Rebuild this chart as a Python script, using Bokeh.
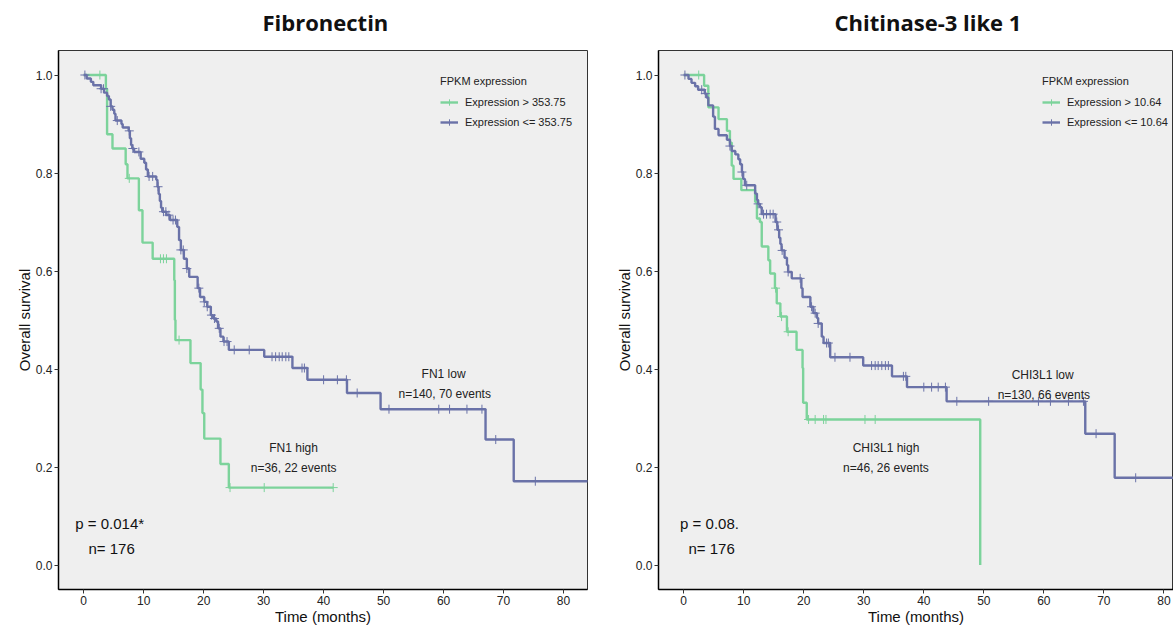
import numpy as np
from bokeh.plotting import figure
from bokeh.layouts import row
from bokeh.models import Range1d, Legend, LegendItem, Title
from bokeh.core.properties import value
from bokeh.embed import file_html
from bokeh.resources import INLINE

# ---------------- data ----------------
x_ticks = [0, 10, 20, 30, 40, 50, 60, 70, 80]
y_ticks = [0.0, 0.2, 0.4, 0.6, 0.8, 1.0]
y_tick_labels = ["0.0", "0.2", "0.4", "0.6", "0.8", "1.0"]

# Fibronectin, FN1 high (green)
fn1_high_t = [3.7, 3.9, 4.8, 7.0, 7.3, 9.2, 9.8, 11.5, 15.1, 15.2, 15.3, 17.8, 19.5, 19.8, 20.1, 22.8, 24.2]
fn1_high_s = [0.972, 0.879, 0.850, 0.818, 0.789, 0.724, 0.658, 0.625, 0.581, 0.500, 0.459, 0.412, 0.358, 0.310, 0.258, 0.206, 0.158]
fn1_high_cens = [2.7, 7.6, 12.8, 13.3, 13.8, 15.9, 24.4, 30.1, 41.6]

# Fibronectin, FN1 low (blue)
fn1_low_t = [0.5, 1.2, 1.6, 2.9, 3.4, 3.9, 4.2, 4.5, 4.8, 5.1, 5.3, 6.3, 6.5, 7.5, 7.7, 7.9, 8.1, 8.4,
             9.5, 10.1, 10.4, 10.7, 12.1, 12.3, 12.5, 12.7, 12.9, 13.1, 13.8, 14.4, 15.6, 15.9, 16.2,
             16.7, 17.2, 17.6, 19.0, 19.4, 20.1, 20.6, 21.2, 21.6, 22.1, 22.4, 22.8, 23.3, 24.2, 30.1,
             34.8, 37.3, 43.9, 49.5, 67.0, 71.7]
fn1_low_s = [0.993, 0.986, 0.979, 0.972, 0.964, 0.957, 0.950, 0.936, 0.929, 0.921, 0.907, 0.900, 0.893,
             0.886, 0.871, 0.857, 0.850, 0.843, 0.829, 0.821, 0.807, 0.793, 0.786, 0.772, 0.757, 0.743,
             0.729, 0.721, 0.714, 0.704, 0.690, 0.663, 0.643, 0.625, 0.605, 0.588, 0.565, 0.547, 0.537,
             0.527, 0.510, 0.503, 0.497, 0.483, 0.466, 0.456, 0.439, 0.425, 0.402, 0.378, 0.351, 0.318,
             0.256, 0.171]
fn1_low_cens = [0.2, 2.9, 3.3, 4.5, 5.6, 7.6, 8.2, 9.2, 10.9, 11.5, 12.4, 13.3, 13.7, 14.2, 14.9, 15.3,
                16.2, 16.6, 17.2, 19.2, 20.1, 20.6, 21.3, 21.8, 22.6, 23.4, 23.9, 25.1, 27.6, 31.4, 32.0,
                32.6, 33.1, 33.7, 34.2, 36.4, 36.8, 40.0, 42.3, 43.8, 45.6, 50.9, 59.2, 61.0, 63.9, 66.4,
                68.7, 75.3, 88.0]

# Chitinase-3 like 1, CHI3L1 high (green)
chi_high_t = [3.4, 4.1, 5.8, 7.2, 7.7, 8.0, 8.3, 9.6, 11.9, 12.2, 12.7, 13.0, 14.1, 14.4, 15.2, 15.5,
              16.1, 17.2, 18.8, 19.8, 19.9, 20.5, 49.4]
chi_high_s = [0.978, 0.934, 0.910, 0.886, 0.862, 0.815, 0.788, 0.765, 0.741, 0.707, 0.700, 0.650, 0.622,
              0.595, 0.565, 0.534, 0.507, 0.476, 0.439, 0.402, 0.331, 0.297, 0.0]
chi_high_cens = [2.5, 15.3, 16.3, 17.4, 20.8, 21.9, 23.3, 23.7, 30.2, 31.9]

# Chitinase-3 like 1, CHI3L1 low (blue)
chi_low_t = [0.8, 1.3, 1.9, 2.4, 3.5, 3.8, 4.1, 4.9, 5.2, 5.8, 7.2, 7.7, 8.0, 8.6, 9.1, 9.4, 9.7, 9.9,
             10.2, 11.9, 12.2, 12.4, 12.7, 13.0, 15.3, 15.6, 15.9, 16.1, 16.3, 16.8, 17.2, 17.4, 18.0,
             19.6, 19.8, 21.1, 21.6, 22.2, 22.4, 23.0, 23.3, 24.4, 29.9, 34.7, 37.2, 43.8, 66.9, 71.8]
chi_low_s = [0.992, 0.984, 0.977, 0.970, 0.962, 0.954, 0.938, 0.915, 0.890, 0.877, 0.868, 0.855, 0.845,
             0.838, 0.828, 0.818, 0.802, 0.788, 0.775, 0.758, 0.745, 0.737, 0.730, 0.716, 0.700, 0.684,
             0.668, 0.655, 0.642, 0.627, 0.612, 0.598, 0.585, 0.565, 0.547, 0.527, 0.514, 0.504, 0.493,
             0.466, 0.453, 0.424, 0.407, 0.385, 0.363, 0.334, 0.268, 0.178]
chi_low_cens = [0.2, 3.0, 3.6, 7.7, 9.7, 10.5, 12.4, 13.3, 13.8, 14.4, 14.9, 15.5, 15.8, 16.4, 17.4, 19.4,
                21.3, 21.9, 22.4, 23.8, 24.1, 25.2, 27.7, 31.3, 31.9, 32.4, 33.0, 33.6, 34.1, 36.6, 37.0,
                40.0, 41.3, 42.4, 43.6, 45.5, 50.8, 59.1, 61.1, 64.1, 66.6, 68.7, 75.3, 88.0]

# texts
titles = ["Fibronectin", "Chitinase-3 like 1"]
legend_title = "FPKM expression"
fn1_legend = ["Expression > 353.75", "Expression <= 353.75"]
chi_legend = ["Expression > 10.64", "Expression <= 10.64"]
fn1_notes = ["FN1 low", "n=140, 70 events", "FN1 high", "n=36, 22 events"]
fn1_notes_x = [60.0, 60.2, 35.0, 35.0]
fn1_notes_y = [0.389, 0.350, 0.238, 0.197]
chi_notes = ["CHI3L1 low", "n=130, 66 events", "CHI3L1 high", "n=46, 26 events"]
chi_notes_x = [59.8, 60.0, 33.7, 33.7]
chi_notes_y = [0.387, 0.346, 0.238, 0.197]
fn1_stats = ["p = 0.014*", "n= 176"]
fn1_stats_x = [-1.4, 0.8]
chi_stats = ["p = 0.08.", "n= 176"]
chi_stats_x = [-0.6, 0.8]
stats_y = [0.085, 0.034]

GREEN = "#7CD39B"
BLUE = "#6A72A8"
PANEL = "#EFEFEF"
FONT = "Liberation Sans"


def km_path(t, s, cens):
    t = np.asarray(t, float)
    s = np.asarray(s, float)
    c = np.asarray(cens, float)
    end = max(t.max(), c.max() if len(c) else 0)
    xs = np.concatenate([[0.0], t, [end]])
    ys = np.concatenate([[1.0], s, [s[-1]]])
    lvl = np.concatenate([[1.0], s])
    cy = lvl[np.searchsorted(t, c, side="right")]
    return xs, ys, c, cy


def panel(title, x_end, width, border_left, border_right, curves, legend_labels, legend_loc,
          notes, notes_x, notes_y, stats, stats_x, title_offset):
    p = figure(width=width, height=627, output_backend="svg", toolbar_location=None,
               x_range=Range1d(-4.2, x_end), y_range=Range1d(-0.05, 1.05),
               min_border_left=border_left, min_border_right=border_right,
               min_border_top=50, min_border_bottom=38)
    p.title.text = title
    p.title.text_font = "Open Sans"
    p.title.text_font_style = "bold"
    p.title.text_font_size = "22px"
    p.title.align = "left"
    p.title.offset = title_offset
    p.title.text_color = "#111111"
    p.title.standoff = 0
    p.add_layout(Title(text=" ", text_font_size="2px", standoff=10), "above")
    p.background_fill_color = PANEL
    p.border_fill_color = "white"
    p.outline_line_color = "#333333"
    p.outline_line_width = 1
    p.xgrid.visible = False
    p.ygrid.visible = False
    p.xaxis.ticker = x_ticks
    p.yaxis.ticker = y_ticks
    p.yaxis.major_label_overrides = {v: l for v, l in zip(y_ticks, y_tick_labels)}
    p.xaxis.axis_label = "Time (months)"
    p.yaxis.axis_label = "Overall survival"
    for ax in (p.xaxis, p.yaxis):
        ax.axis_line_color = "black"
        ax.axis_line_width = 1.5
        ax.major_tick_line_color = "#333333"
        ax.major_tick_out = 4
        ax.major_tick_in = 0
        ax.minor_tick_line_color = None
        ax.major_label_text_font = FONT
        ax.major_label_text_font_size = "12px"
        ax.major_label_text_color = "#222222"
        ax.major_label_standoff = 2
        ax.axis_label_text_font = FONT
        ax.axis_label_text_font_size = "15px"
        ax.axis_label_text_font_style = "normal"
        ax.axis_label_text_color = "#111111"
        ax.axis_label_standoff = 0

    items = []
    for (t, s, c, color), lab in zip(curves, legend_labels):
        xs, ys, cx, cy = km_path(t, s, c)
        r1 = p.step(xs, ys, mode="after", line_color=color, line_width=2.4)
        r2 = p.scatter(cx, cy, marker="cross", size=9, line_color=color, line_width=1)
        items.append(LegendItem(label=lab, renderers=[r1, r2]))

    leg = Legend(items=items, title=legend_title, location=legend_loc,
                 background_fill_alpha=0, border_line_color=None,
                 title_text_font=FONT, title_text_font_size="11px", title_text_font_style="normal",
                 title_text_color="#222222",
                 label_text_font=FONT, label_text_font_size="11px", label_text_color="#222222",
                 glyph_width=18, glyph_height=16, label_height=16, spacing=4,
                 padding=0, margin=0, title_standoff=7, label_standoff=7)
    p.add_layout(leg)

    p.text(notes_x, notes_y, text=notes, text_font=value(FONT), text_font_size="12px",
           text_align="center", text_baseline="middle", text_color="#222222")
    p.text(stats_x, stats_y, text=stats, text_font=value(FONT), text_font_size="15px",
           text_align="left", text_baseline="middle", text_color="#111111")
    return p


p1 = panel(titles[0], 84.0, 608, 58, 21,
           [(fn1_high_t, fn1_high_s, fn1_high_cens, GREEN), (fn1_low_t, fn1_low_s, fn1_low_cens, BLUE)],
           fn1_legend, (382, 459), fn1_notes, fn1_notes_x, fn1_notes_y, fn1_stats, fn1_stats_x, 204)
p2 = panel(titles[1], 81.6, 565, 50, 0,
           [(chi_high_t, chi_high_s, chi_high_cens, GREEN), (chi_low_t, chi_low_s, chi_low_cens, BLUE)],
           chi_legend, (384, 459), chi_notes, chi_notes_x, chi_notes_y, chi_stats, chi_stats_x, 176)

layout = row(p1, p2)
open("out.html", "w").write(file_html(layout, INLINE))
